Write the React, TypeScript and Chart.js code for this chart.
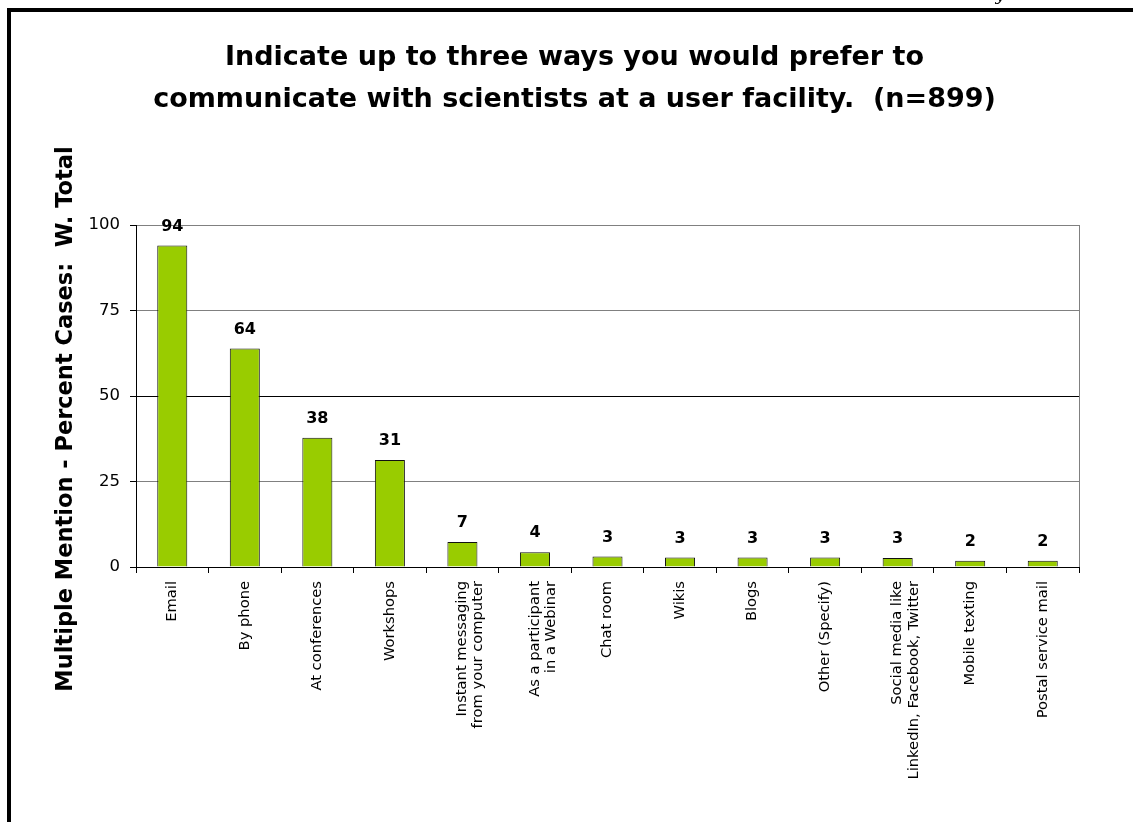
import React, { useEffect, useRef } from "react";
import { Chart, registerables } from "chart.js";

Chart.register(...registerables);

const titleLines = [
  "Indicate up to three ways you would prefer to",
  "communicate with scientists at a user facility.  (n=899)",
];
const yAxisTitle = "Multiple Mention - Percent Cases:  W. Total";
const categories: (string | string[])[] = [
  "Email",
  "By phone",
  "At conferences",
  "Workshops",
  ["Instant messaging", "from your computer"],
  ["As a participant", "in a Webinar"],
  "Chat room",
  "Wikis",
  "Blogs",
  "Other (Specify)",
  ["Social media like", "LinkedIn, Facebook, Twitter"],
  "Mobile texting",
  "Postal service mail",
];
const percentValues = [94, 63.9, 37.8, 31.3, 7.3, 4.3, 3.1, 2.8, 2.8, 2.8, 2.6, 1.8, 1.8];
const yTicks = [0, 25, 50, 75, 100];

const FONT = "'DejaVu Sans', 'Liberation Sans', Arial, sans-serif";

export default function App() {
  const ref = useRef<HTMLCanvasElement | null>(null);

  useEffect(() => {
    if (!ref.current) return;

    const decorations = {
      id: "decorations",
      afterDraw(chart: any) {
        const ctx = chart.ctx;
        const area = chart.chartArea;
        ctx.save();
        // outer frame
        ctx.fillStyle = "#000";
        ctx.fillRect(7, 8, 1126, 4);
        ctx.fillRect(7, 8, 4, 814);
        // clipped header glyph
        ctx.font = "italic 16px 'DejaVu Serif', 'Liberation Serif', serif";
        ctx.textAlign = "center";
        ctx.textBaseline = "alphabetic";
        ctx.fillText("y", 1000, -0.5);
        // right border of plot
        ctx.strokeStyle = "#808080";
        ctx.lineWidth = 1;
        ctx.beginPath();
        ctx.moveTo(Math.round(area.right) + 0.5, area.top);
        ctx.lineTo(Math.round(area.right) + 0.5, area.bottom);
        ctx.stroke();
        // y axis title
        ctx.translate(66, 419);
        ctx.rotate(-Math.PI / 2);
        ctx.font = `bold 22.5px ${FONT}`;
        ctx.fillStyle = "#000";
        ctx.textAlign = "center";
        ctx.textBaseline = "middle";
        ctx.fillText(yAxisTitle, 0, 0);
        ctx.restore();
      },
      afterDatasetsDraw(chart: any) {
        const ctx = chart.ctx;
        const meta = chart.getDatasetMeta(0);
        ctx.save();
        ctx.font = `bold 16px ${FONT}`;
        ctx.fillStyle = "#000";
        ctx.textAlign = "center";
        ctx.textBaseline = "middle";
        meta.data.forEach((bar: any, i: number) => {
          ctx.fillText(String(Math.round(percentValues[i])), bar.x, bar.y - 19);
        });
        ctx.restore();
      },
    };

    const chart = new Chart(ref.current, {
      type: "bar",
      data: {
        labels: categories,
        datasets: [
          {
            data: percentValues,
            backgroundColor: "#99CC00",
            borderColor: "#111",
            borderWidth: 1,
            barPercentage: 0.414,
            categoryPercentage: 1.0,
          },
        ],
      },
      options: {
        responsive: false,
        animation: false,
        devicePixelRatio: 1,
        layout: { padding: { left: 70, right: 54, top: 37, bottom: 0 } },
        plugins: {
          legend: { display: false },
          tooltip: { enabled: false },
          title: {
            display: true,
            text: titleLines,
            color: "#000",
            font: { family: FONT, size: 27, weight: "bold", lineHeight: 42 / 27 },
            padding: { top: 0, bottom: 104 },
          },
        },
        scales: {
          x: {
            type: "category",
            offset: true,
            grid: {
              drawOnChartArea: false,
              drawTicks: true,
              tickLength: 6,
              tickColor: "#000",
              offset: true,
            },
            border: { color: "#000", width: 1 },
            ticks: {
              minRotation: 90,
              maxRotation: 90,
              autoSkip: false,
              padding: 8,
              color: "#000",
              font: { family: FONT, size: 14.7, lineHeight: 1.1 },
            },
            afterFit(scale: any) {
              scale.height = 255;
            },
          },
          y: {
            min: 0,
            max: 100,
            afterBuildTicks(scale: any) {
              scale.ticks = yTicks.map((v) => ({ value: v }));
            },
            grid: {
              color: (c: any) => (c.tick && c.tick.value === 50 ? "#000" : "#808080"),
              tickColor: "#000",
              drawTicks: true,
              tickLength: 6,
              lineWidth: 1,
            },
            border: { color: "#000", width: 1 },
            ticks: {
              padding: 10,
              color: "#000",
              font: { family: FONT, size: 16.5 },
            },
            afterFit(scale: any) {
              scale.width = 66;
            },
          },
        },
      },
      plugins: [decorations],
    });

    return () => chart.destroy();
  }, []);

  return (
    <div style={{ position: "absolute", left: 0, top: 0, width: 1133, height: 822, background: "#fff" }}>
      <canvas ref={ref} width={1133} height={822} style={{ display: "block", width: 1133, height: 822 }} />
    </div>
  );
}
